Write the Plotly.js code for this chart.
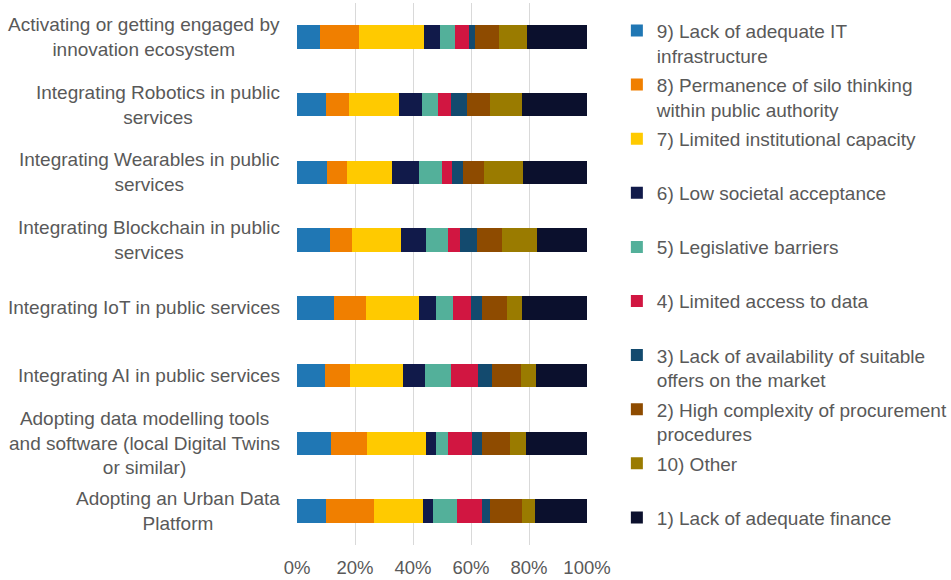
<!DOCTYPE html>
<html>
<head>
<meta charset="utf-8">
<script src="https://cdn.plot.ly/plotly-3.0.1.min.js"></script>
<style>html,body{margin:0;padding:0;background:#fff;}#chart{width:951px;height:580px;}</style>
</head>
<body>
<div id="chart"></div>
<script>
const categories = [
  "Activating or getting engaged by<br>innovation ecosystem",
  "Integrating Robotics in public<br>services",
  "Integrating Wearables in public<br>services",
  "Integrating Blockchain in public<br>services",
  "Integrating IoT in public services",
  "Integrating AI in public services",
  "Adopting data modelling tools<br>and software (local Digital Twins<br>or similar)",
  "Adopting an Urban Data<br>Platform"
];
const categoryKeys = ["Activating","Robotics","Wearables","Blockchain","IoT","AI","DataModelling","UrbanData"];

const seriesNames = [
  "9) Lack of adequate IT<br>infrastructure",
  "8) Permanence of silo thinking<br>within public authority",
  "7) Limited institutional capacity<br>&nbsp;",
  "6) Low societal acceptance<br>&nbsp;",
  "5) Legislative barriers<br>&nbsp;",
  "4) Limited access to data<br>&nbsp;",
  "3) Lack of availability of suitable<br>offers on the market",
  "2) High complexity of procurement<br>procedures",
  "10) Other<br>&nbsp;",
  "1) Lack of adequate finance<br>&nbsp;"
];

const lackIT       = [7.8, 10.1, 10.2, 11.4, 12.8, 9.8, 11.7, 10.1];
const siloThinking = [13.5, 7.7, 7.0, 7.7, 11.1, 8.5, 12.4, 16.3];
const capacity     = [22.6, 17.4, 15.4, 16.9, 18.2, 18.1, 20.4, 17.0];
const acceptance   = [5.5, 8.0, 9.5, 8.4, 5.7, 7.9, 3.3, 3.4];
const legislative  = [5.2, 5.5, 7.8, 7.6, 6.1, 8.7, 4.3, 8.5];
const dataAccess   = [4.7, 4.5, 3.7, 4.1, 6.2, 9.4, 8.4, 8.4];
const marketOffers = [2.1, 5.3, 3.6, 6.0, 3.6, 5.0, 3.4, 2.9];
const procurement  = [8.4, 7.9, 7.4, 8.5, 8.7, 10.0, 9.4, 11.1];
const other        = [9.5, 11.3, 13.3, 12.3, 5.3, 5.1, 5.6, 4.4];
const finance      = [20.7, 22.3, 22.1, 17.1, 22.3, 17.5, 21.1, 17.9];

const xTickVals = [0, 20, 40, 60, 80, 100];
const xTickText = ["0%", "20%", "40%", "60%", "80%", "100%"];

const seriesValues = [lackIT, siloThinking, capacity, acceptance, legislative, dataAccess, marketOffers, procurement, other, finance];
const seriesColors = ["#2077B4", "#F07F00", "#FFCA00", "#111A4A", "#53B09A", "#D11641", "#134A6E", "#8E4B00", "#9A7B00", "#0B102D"];

const textColor = "#595959";
const fontFamily = "Liberation Sans, Arial, sans-serif";

const traces = seriesValues.map((vals, i) => ({
  type: "bar",
  orientation: "h",
  name: seriesNames[i],
  legendgroup: "g" + i,
  x: vals,
  y: categoryKeys,
  marker: {color: seriesColors[i], line: {width: 0}},
  hoverinfo: "skip"
}));

const annotations = categories.map((c, i) => ({
  xref: "paper", yref: "y",
  x: 0, y: categoryKeys[i],
  xanchor: "right", yanchor: "middle",
  xshift: -15,
  align: "center",
  showarrow: false,
  text: c,
  font: {family: fontFamily, size: 19, color: textColor}
}));

const layout = {
  width: 951, height: 580,
  margin: {l: 297, r: 364, t: 3, b: 35, autoexpand: false},
  paper_bgcolor: "#ffffff",
  plot_bgcolor: "#ffffff",
  barmode: "stack",
  barnorm: "percent",
  bargap: 0.655,
  font: {family: fontFamily, size: 19, color: textColor},
  xaxis: {
    range: [0, 100],
    tickvals: xTickVals,
    ticktext: xTickText,
    showgrid: true,
    gridcolor: "#D9D9D9",
    gridwidth: 1,
    zeroline: false,
    showline: false,
    ticks: "",
    ticklabelstandoff: 9,
    tickfont: {family: fontFamily, size: 18.5, color: textColor},
    fixedrange: true
  },
  yaxis: {
    type: "category",
    categoryorder: "array",
    categoryarray: categoryKeys,
    autorange: "reversed",
    showticklabels: false,
    showgrid: false,
    zeroline: false,
    showline: false,
    ticks: "",
    fixedrange: true
  },
  showlegend: true,
  legend: {
    x: 1.103, xanchor: "left",
    y: 0.984, yanchor: "top",
    traceorder: "grouped",
    tracegroupgap: 1.7,
    valign: "top",
    font: {family: fontFamily, size: 19, color: textColor},
    bgcolor: "rgba(0,0,0,0)"
  },
  annotations: annotations
};

Plotly.newPlot("chart", traces, layout, {displayModeBar: false, staticPlot: true});
</script>
</body>
</html>
